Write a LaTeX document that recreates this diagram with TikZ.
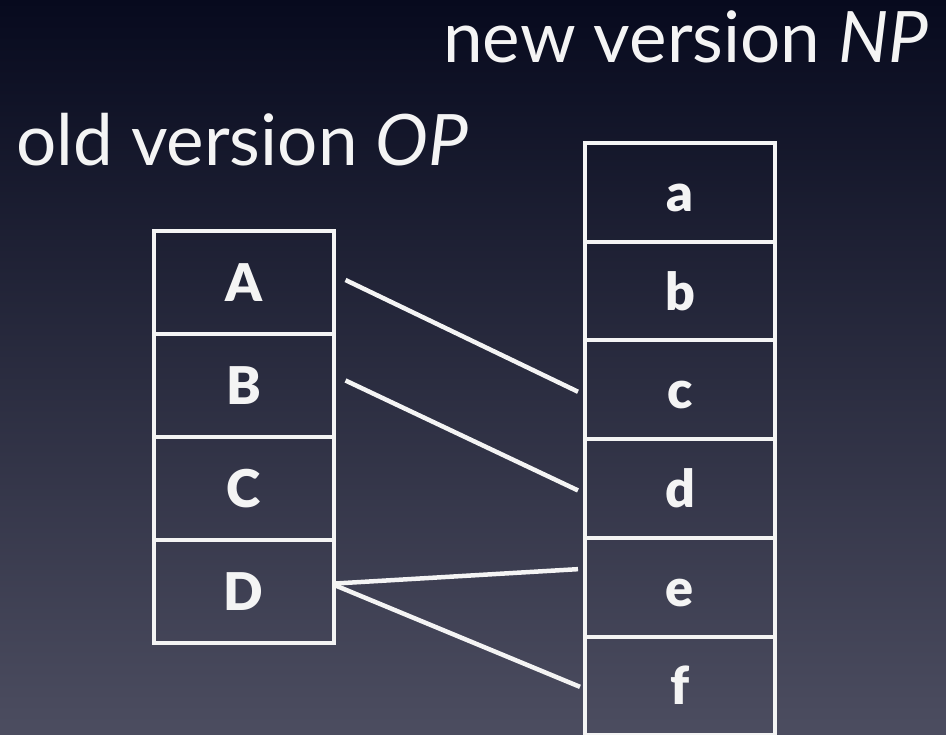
\documentclass[tikz,border=0pt]{standalone}
\usepackage{fontspec}
\setmainfont{Lato}
\newfontfamily\heavyfont{Lato Black}
\usetikzlibrary{calc}
\definecolor{slidetop}{HTML}{070A1E}
\definecolor{slidebot}{HTML}{4C4D60}
\definecolor{chalk}{HTML}{F4F4F4}
\tikzset{
    cell/.style={
        draw=chalk, line width=4pt, outer sep=0pt, inner sep=0pt,
        text=chalk, text height=38pt, text depth=0pt,
        font=\fontsize{52}{60}\selectfont\heavyfont
    },
    link/.style={draw=chalk, line width=4.5pt},
    title/.style={
        text=chalk, inner sep=0pt,
        font=\fontsize{71}{80}\selectfont
    }
}

\begin{document}
\begin{tikzpicture}[x=1pt,y=-1pt]

% slide background
\shade[top color=slidetop, bottom color=slidebot] (0,0) rectangle (946,735);
\useasboundingbox (0,0) rectangle (946,735);

% headings
\node[title, anchor=base east] (np) at (929,63) {new version \textit{NP}};
\node[title, anchor=base west] (op) at (16,166) {old version \textit{OP}};

% old column, four cells
\foreach \l [count=\i] in {A,B,C,D}
  \node[cell, minimum width=180pt, minimum height=103pt] (o\i)
    at (243.5,{231+103*(\i-0.5)}) {\l};

% new column, six cells
\foreach \l [count=\i] in {a,b,c,d,e,f}
  \node[cell, minimum width=190pt, minimum height=98.7pt] (n\i)
    at (680,{143+98.7*(\i-0.5)}) {\l};

% correspondences between the two versions
\draw[link] ($(o1.east)+(12,-2.5)$) -- ($(n3.west)+(-7,2)$);
\draw[link] ($(o2.east)+(12,-5)$) -- ($(n4.west)+(-7,2)$);
\draw[link] ($(o4.east)+(2,-8)$) -- ($(n5.west)+(-7,-18)$);
\draw[link] ($(o4.east)+(2,-6)$) -- ($(n6.west)+(-5,1)$);

\end{tikzpicture}
\end{document}
